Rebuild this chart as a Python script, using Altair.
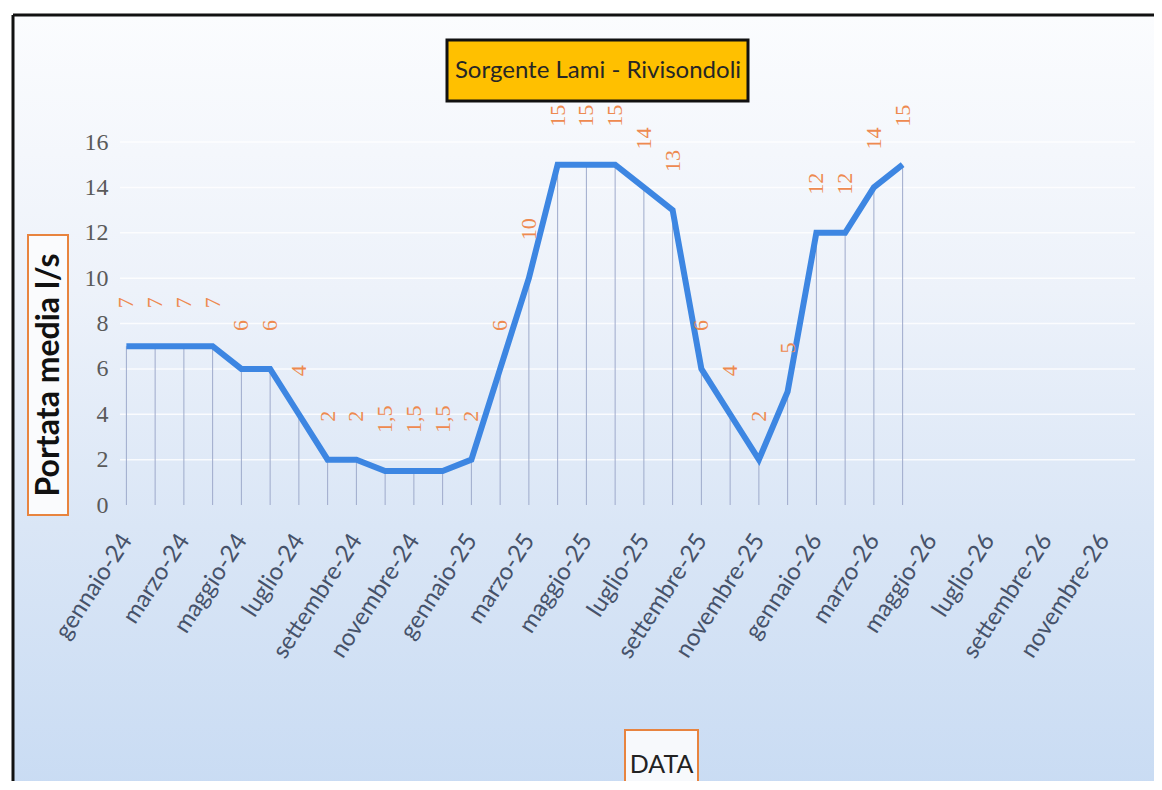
import altair as alt
import pandas as pd

# ---- data ----
mesi = ["gennaio", "febbraio", "marzo", "aprile", "maggio", "giugno",
        "luglio", "agosto", "settembre", "ottobre", "novembre", "dicembre"]
anni = ["24", "25", "26"]
categorie = [f"{m}-{a}" for a in anni for m in mesi]          # 36 categories on the axis
etichette_asse = categorie[::2]                                # every other month labelled

portata = [7, 7, 7, 7, 6, 6, 4, 2, 2, 1.5, 1.5, 1.5,
           2, 6, 10, 15, 15, 15, 14, 13, 6, 4, 2, 5,
           12, 12, 14, 15]
y_ticks = [0, 2, 4, 6, 8, 10, 12, 14, 16]

testo = [(f"{v:g}").replace(".", ",") for v in portata]

df = pd.DataFrame({"mese": categorie[:len(portata)], "portata": portata, "etichetta": testo})
grid_df = pd.DataFrame({"g": y_ticks[1:]})

W, H = 1035, 363

xenc = alt.X("mese:N",
             scale=alt.Scale(domain=categorie, type="point", padding=0.5),
             axis=alt.Axis(values=etichette_asse, labelAngle=-57, title=None,
                           domain=False, ticks=False, grid=False, zindex=1,
                           labelFont="Lato", labelFontSize=24, labelColor="#46526A",
                           labelPadding=31))
yscale = alt.Scale(domain=[0, 16], nice=False, zero=True)
yenc = alt.Y("portata:Q", scale=yscale,
             axis=alt.Axis(values=y_ticks, title=None, grid=False, domain=False, ticks=False,
                           zindex=1,
                           labelFont="Liberation Serif", labelFontSize=24,
                           labelColor="#5A5A5A", labelPadding=4))

deco = alt.Data(values=[{"k": 1}])

sfondo = alt.Chart(deco).mark_rect(
    fill=alt.Gradient(gradient="linear",
                      stops=[alt.GradientStop(color="#FBFCFE", offset=0),
                             alt.GradientStop(color="#EDF2FA", offset=0.35),
                             alt.GradientStop(color="#DAE6F6", offset=0.65),
                             alt.GradientStop(color="#C8DBF3", offset=1)],
                      x1=0, x2=0, y1=0, y2=1)
).encode(x=alt.value(-99), x2=alt.value(1050), y=alt.value(-127), y2=alt.value(660))

griglia = alt.Chart(grid_df).mark_rule(color="#FFFFFF", strokeWidth=1.5, opacity=0.8).encode(
    y=alt.Y("g:Q", scale=yscale), x=alt.value(8), x2=alt.value(1023))

base = alt.Chart(df)
verticali = base.mark_rule(color="#9EAACB", strokeWidth=1).encode(
    x=xenc, y=yenc, y2=alt.datum(0))
linea = base.mark_line(color="#3D86E2", strokeWidth=6).encode(x=xenc, y=yenc)
valori = base.mark_text(angle=270, align="left", baseline="middle", dx=38,
                        font="Liberation Serif", fontSize=22, color="#EE8A50").encode(
    x=xenc, y=yenc, text="etichetta:N")

titolo_box = alt.Chart(deco).mark_rect(fill="#FFC000", stroke="#111111", strokeWidth=3).encode(
    x=alt.value(335), x2=alt.value(636), y=alt.value(-102), y2=alt.value(-41))
titolo = alt.Chart(deco).mark_text(text="Sorgente Lami - Rivisondoli", font="Lato", fontSize=24,
                                   color="#262626", align="center", baseline="middle").encode(
    x=alt.value(486), y=alt.value(-71))

ytit_box = alt.Chart(deco).mark_rect(fill="#FAFBFD", stroke="#E8843F", strokeWidth=2).encode(
    x=alt.value(-84), x2=alt.value(-44), y=alt.value(93), y2=alt.value(373))
ytit = alt.Chart(deco).mark_text(text="Portata media l/s", font="Lato", fontSize=32, fontWeight="bold",
                                 color="#111111", angle=270, align="center", baseline="middle").encode(
    x=alt.value(-63), y=alt.value(233))

xtit_box = alt.Chart(deco).mark_rect(fill="#F7F9FC", stroke="#E8843F", strokeWidth=2).encode(
    x=alt.value(513), x2=alt.value(586), y=alt.value(588), y2=alt.value(660))
xtit = alt.Chart(deco).mark_text(text="DATA", font="Lato", fontSize=25,
                                 color="#222222", align="center", baseline="middle").encode(
    x=alt.value(549.5), y=alt.value(623))

bordo_top = alt.Chart(deco).mark_rule(color="#111111", strokeWidth=3).encode(
    x=alt.value(-99), x2=alt.value(1050), y=alt.value(-127))
bordo_sx = alt.Chart(deco).mark_rule(color="#111111", strokeWidth=3).encode(
    x=alt.value(-99), y=alt.value(-127), y2=alt.value(660))

chart = alt.layer(
    sfondo, griglia, verticali, linea, valori,
    titolo_box, titolo, ytit_box, ytit, xtit_box, xtit, bordo_top, bordo_sx
).properties(
    width=W, height=H,
    padding={"left": 104, "top": 134, "right": 7, "bottom": 276},
    autosize=alt.AutoSizeParams(type="none"),
    background="white"
).configure_view(stroke=None)

chart.save("out.html", embed_options={"renderer": "svg", "actions": False})
